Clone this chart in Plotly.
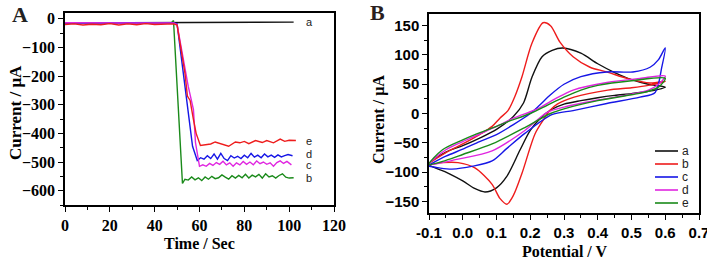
import plotly.graph_objects as go

W, H = 707, 259

# ---------------- Panel A data (amperometric i-t) ----------------
t_a = [0, 48, 102]
i_a = [-15, -13, -12]

t_b = [0, 10, 20, 30, 40, 47.5, 48.4, 51.5, 52.4, 53.5, 55, 56.5, 58, 59.5, 61, 62.5, 64, 65.5, 67, 68.5,
       70, 71.5, 73, 74.5, 76, 77.5, 79, 80.5, 82, 83.5, 85, 86.5, 88, 89.5, 91, 92.5, 94, 95.5, 97, 98.5, 100, 102]
i_b = [-16, -15, -16, -15, -15, -14, -6, -455, -575, -560, -563, -552, -562, -555, -565, -552, -560, -550, -558, -555,
       -545, -553, -560, -548, -556, -547, -555, -543, -556, -546, -552, -543, -556, -541, -552, -548, -556, -547, -541, -553, -556, -555]

t_c = [0, 10, 20, 30, 40, 48.5, 50, 53.7, 55, 57.3, 58.2, 60, 61.5, 63, 64.5, 66, 67.5, 69, 70.5, 72, 73.5, 75,
       76.5, 78, 79.5, 81, 82.5, 84, 85.5, 87, 88.5, 90, 91.5, 93, 94.5, 96, 97.5, 99, 101]
i_c = [-14, -15, -14, -15, -15, -15, -20, -190, -237, -317, -432, -515, -510, -515, -505, -512, -502, -508, -497, -510, -503, -515,
       -503, -510, -498, -508, -500, -510, -496, -506, -500, -508, -503, -515, -502, -496, -505, -498, -510]

t_d = [0, 10, 20, 30, 40, 48.5, 50, 52.8, 56.9, 59, 60.5, 62, 63.5, 65, 66.5, 68, 69.5, 71, 72.5, 74, 75.5, 77,
       78.5, 80, 81.5, 83, 84.5, 86, 87.5, 89, 90.5, 92, 93.5, 95, 96.5, 98, 99.5, 101.5]
i_d = [-15, -14, -15, -14, -15, -15, -18, -190, -445, -495, -485, -490, -478, -488, -472, -490, -470, -488, -495, -478, -486, -480,
       -488, -476, -485, -470, -483, -476, -485, -472, -482, -476, -484, -475, -482, -478, -474, -478]

t_e = [0, 4, 8, 12, 16, 20, 24, 28, 32, 36, 40, 44, 48.5, 50, 53.5, 54.6, 55.8, 57.3, 58.5, 60.4, 63, 65, 67, 70,
       73, 76, 78, 80, 82, 85, 88, 90, 93, 96, 98, 100, 103]
i_e = [-20, -18, -22, -19, -21, -17, -22, -18, -21, -17, -20, -18, -18, -22, -190, -270, -285, -352, -400, -442, -440, -437, -430, -438,
       -445, -430, -433, -428, -436, -425, -432, -425, -433, -420, -428, -424, -425]

# ---------------- Panel B data (cyclic voltammograms) ----------------
# each curve: forward (anodic) branch followed by reverse (cathodic) branch
v_a = [-0.1, -0.05, 0.0, 0.05, 0.1, 0.15, 0.18, 0.205, 0.235, 0.265, 0.297, 0.35, 0.4, 0.45, 0.5, 0.55, 0.6,
       0.55, 0.5, 0.45, 0.4, 0.35, 0.3, 0.26, 0.23, 0.2, 0.17, 0.13, 0.1, 0.066, 0.035, 0.0, -0.05, -0.1]
c_a = [-87, -66, -55, -42, -27, -5, 18, 62, 97, 108, 112, 103, 85, 70, 58, 50, 45,
       38, 34, 31, 27, 22, 16, 6, -8, -29, -62, -108, -127, -134, -128, -115, -100, -87]

v_b = [-0.1, -0.05, 0.0, 0.05, 0.087, 0.11, 0.134, 0.155, 0.175, 0.205, 0.238, 0.26, 0.288, 0.327, 0.377, 0.427, 0.487, 0.555, 0.6,
       0.55, 0.5, 0.43, 0.33, 0.28, 0.258, 0.24, 0.214, 0.175, 0.15, 0.131, 0.11, 0.087, 0.036, -0.014, -0.06, -0.1]
c_b = [-87, -67, -52, -36, -22, -8, 5, 30, 62, 120, 155, 150, 122, 97, 79, 71, 60, 52, 55,
       48, 44, 40, 28, 16, 5, -10, -35, -103, -140, -155, -145, -121, -93, -84, -84, -87]

v_c = [-0.1, -0.05, 0.0, 0.05, 0.1, 0.15, 0.2, 0.229, 0.26, 0.3, 0.35, 0.427, 0.504, 0.555, 0.58, 0.6,
       0.59, 0.57, 0.525, 0.427, 0.327, 0.264, 0.184, 0.13, 0.087, 0.03, -0.032, -0.07, -0.1]
c_c = [-88, -73, -61, -48, -36, -19, 0, 15, 32, 50, 63, 71, 71, 79, 92, 112,
       80, 36, 28, 17, 5, -2, -34, -60, -81, -90, -95, -93, -90]

v_d = [-0.1, -0.05, 0.0, 0.05, 0.1, 0.15, 0.2, 0.229, 0.28, 0.327, 0.427, 0.525, 0.6,
       0.58, 0.55, 0.5, 0.4, 0.3, 0.25, 0.184, 0.087, -0.014, -0.1]
c_d = [-87, -62, -48, -35, -22, -8, 3, 10, 27, 40, 53, 60, 64,
       50, 40, 33, 23, 11, 2, -29, -64, -78, -87]

v_e = [-0.1, -0.06, 0.0, 0.036, 0.1, 0.134, 0.2, 0.25, 0.3, 0.35, 0.4, 0.5, 0.6,
       0.58, 0.55, 0.5, 0.4, 0.3, 0.26, 0.184, 0.087, 0.0, -0.05, -0.1]
c_e = [-87, -62, -45, -36, -22, -14, 0, 14, 28, 40, 48, 56, 60,
       45, 38, 32, 22, 8, 0, -24, -52, -70, -80, -87]

pot_ticks = [-0.1, 0.0, 0.1, 0.2, 0.3, 0.4, 0.5, 0.6, 0.7]
pot_tick_text = ["-0.1", "0.0", "0.1", "0.2", "0.3", "0.4", "0.5", "0.6", "0.7"]

labels = ["a", "b", "c", "d", "e"]
colors = ["#111111", "#ee1c1c", "#1616e6", "#e026e0", "#1a8a1a"]

fig = go.Figure()

# Panel A traces
for t, i, col in [(t_a, i_a, colors[0]), (t_b, i_b, colors[4]), (t_d, i_d, colors[2]),
                  (t_c, i_c, colors[3]), (t_e, i_e, colors[1])]:
    fig.add_trace(go.Scatter(x=t, y=i, mode="lines", line=dict(color=col, width=1.4),
                             xaxis="x", yaxis="y", showlegend=False))

# Panel B traces
for v, c, col in [(v_a, c_a, colors[0]), (v_b, c_b, colors[1]), (v_c, c_c, colors[2]),
                  (v_d, c_d, colors[3]), (v_e, c_e, colors[4])]:
    fig.add_trace(go.Scatter(x=v, y=c, mode="lines", line=dict(color=col, width=1.4, shape="spline", smoothing=0.8),
                             xaxis="x2", yaxis="y2", showlegend=False))

serif = "Liberation Serif"
sans = "Liberation Sans"

def axis(domain, rng, dtick, mdtick, fam, size, anchor):
    return dict(domain=domain, range=rng, dtick=dtick, tick0=0, ticks="outside", ticklen=5, tickwidth=1.3,
                tickcolor="black", showline=True, linecolor="black", linewidth=1.5, mirror=True,
                showgrid=False, zeroline=False, anchor=anchor, automargin=False, ticklabeloverflow="allow",
                tickprefix="<b>", ticksuffix="</b>",
                tickfont=dict(family=fam, size=size, color="black", weight="bold"),
                minor=dict(dtick=mdtick, tick0=0, ticks="outside", ticklen=3, tickwidth=1, tickcolor="black",
                           showgrid=False))

x2 = axis([429 / W, 699 / W], [-0.1, 0.7], 0.1, 0.05, sans, 15, "y2")
x2.update(tickmode="array", tickvals=pot_ticks, ticktext=["<b>" + s + "</b>" for s in pot_tick_text],
          tickprefix="", ticksuffix="")

fig.update_layout(
    template="none",
    width=W, height=H, margin=dict(l=0, r=0, t=0, b=0, pad=0), autosize=False,
    paper_bgcolor="white", plot_bgcolor="white", showlegend=False,
    xaxis=axis([65 / W, 334 / W], [0, 120], 20, 10, serif, 16, "y"),
    yaxis=axis([1 - 205 / H, 1 - 13 / H], [-650, 20], 100, 50, serif, 16, "x"),
    xaxis2=x2,
    yaxis2=axis([1 - 213 / H, 1 - 14 / H], [-170, 170], 50, 25, sans, 15, "x2"),
)

def pa(text, x, y, size, fam=serif, angle=0, color="black", xa="center", ya="middle"):
    return dict(text="<b>" + text + "</b>", x=x / W, y=1 - y / H, xref="paper", yref="paper", showarrow=False,
                xanchor=xa, yanchor=ya, textangle=angle,
                font=dict(family=fam, size=size, color=color, weight="bold"))

ann = [
    pa("Time / Sec", 199, 243, 16),
    pa("Current / μA", 15, 113, 17, angle=-90),
    pa("Potential / V", 564, 251, 16),
    pa("Current / μA", 379, 120, 16, angle=-90),
    pa("A", 20, 14, 22, color="#222"),
    pa("B", 377, 12, 22, color="#2a1f1f"),
]
# curve labels in panel A
for lab, yv in [("a", -12), ("e", -428), ("d", -472), ("c", -512), ("b", -557)]:
    ann.append(dict(text=lab, x=106.5, y=yv, xref="x", yref="y", showarrow=False, xanchor="left", yanchor="middle",
                    font=dict(family=sans, size=11, color="#222")))

# legend in panel B
shapes = []
for k, (lab, col) in enumerate(zip(labels, colors)):
    yy = 1 - (151 + 13 * k) / H
    shapes.append(dict(type="line", xref="paper", yref="paper", x0=655 / W, x1=678 / W, y0=yy, y1=yy,
                       line=dict(color=col, width=1.6)))
    ann.append(dict(text=lab, x=680 / W, y=yy, xref="paper", yref="paper", showarrow=False, xanchor="left",
                    yanchor="middle", font=dict(family=sans, size=12, color="#222")))

fig.update_layout(annotations=ann, shapes=shapes)
fig.write_html("out.html", config={"displayModeBar": False},
               post_script="document.body.style.margin='0px';document.body.style.overflow='hidden';")
